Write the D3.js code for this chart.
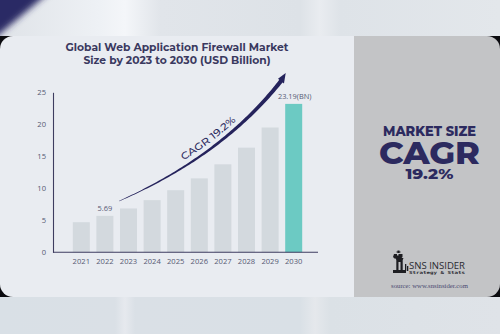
<!DOCTYPE html>
<html>
<head>
<meta charset="utf-8">
<script src="https://cdn.jsdelivr.net/npm/d3@7"></script>
<style>
  html, body { margin: 0; padding: 0; background: #dbe1e7; }
  svg { display: block; }
</style>
</head>
<body>
<svg id="chart" width="500" height="334"></svg>
<script>
// Market size, USD billion
const years = ["2021", "2022", "2023", "2024", "2025", "2026", "2027", "2028", "2029", "2030"];
const values = [4.7, 5.69, 6.85, 8.15, 9.7, 11.55, 13.75, 16.35, 19.5, 23.19];
const yTicks = [0, 5, 10, 15, 20, 25];
const labelledValues = { "2022": "5.69", "2030": "23.19(BN)" };
const cagrText = "CAGR 19.2%";

const W = 500, H = 334;
const svg = d3.select("#chart");
const defs = svg.append("defs");

// ---- background bands ----
const topGrad = defs.append("linearGradient").attr("id", "topGrad");
[[0, "#dfe3e8"], [0.2, "#eef1f5"], [0.25, "#f4f6f9"], [0.32, "#e1e5ea"], [0.6, "#dde2e7"],
 [0.64, "#e9ecf0"], [0.68, "#dee3e8"], [1, "#e3e7eb"]]
  .forEach(([o, c]) => topGrad.append("stop").attr("offset", o).attr("stop-color", c));
svg.append("rect").attr("width", W).attr("height", 40).attr("fill", "url(#topGrad)");

const botGrad = defs.append("linearGradient").attr("id", "botGrad");
[[0, "#d9e0e6"], [0.23, "#dae0e6"], [0.25, "#e6e9ee"], [0.27, "#dae0e6"], [0.6, "#d9e0e6"],
 [0.63, "#e5e8ec"], [0.66, "#dbe1e6"], [1, "#dfe3e8"]]
  .forEach(([o, c]) => botGrad.append("stop").attr("offset", o).attr("stop-color", c));
svg.append("rect").attr("y", 294).attr("width", W).attr("height", H - 294).attr("fill", "url(#botGrad)");

// navy corner accent
defs.append("filter").attr("id", "soft").attr("x", "-50%").attr("y", "-50%").attr("width", "200%").attr("height", "200%")
  .append("feGaussianBlur").attr("stdDeviation", 3.2);
svg.append("path").attr("d", "M-10,-10 L52,-10 L-10,42 Z").attr("fill", "#2c2965").attr("filter", "url(#soft)");

// dark strip behind the card, visible only in the rounded corners
svg.append("rect").attr("y", 36).attr("width", W).attr("height", 261).attr("fill", "#0b0b0f");

// card
const clip = defs.append("clipPath").attr("id", "cardClip");
clip.append("rect").attr("x", 0).attr("y", 36).attr("width", W).attr("height", 261).attr("rx", 13);
const card = svg.append("g").attr("clip-path", "url(#cardClip)");
card.append("rect").attr("x", 0).attr("y", 36).attr("width", 354).attr("height", 261).attr("fill", "#e9ecf1");
card.append("rect").attr("x", 354).attr("y", 36).attr("width", 146).attr("height", 261).attr("fill", "#c3c4c6");

// ---- title ----
const navy = "#3a395f";
const title = svg.append("text").attr("text-anchor", "middle")
  .attr("font-family", "Montserrat, 'Open Sans', sans-serif").attr("font-weight", 700)
  .attr("font-size", 11.2).attr("fill", navy);
title.append("tspan").attr("x", 177).attr("y", 51).attr("textLength", 223)
  .attr("lengthAdjust", "spacingAndGlyphs").text("Global Web Application Firewall Market");
title.append("tspan").attr("x", 177).attr("y", 64).attr("textLength", 187)
  .attr("lengthAdjust", "spacingAndGlyphs").text("Size by 2023 to 2030 (USD Billion)");

// ---- scales ----
const x = d3.scaleBand().domain(years).range([69.5, 305.5]).paddingInner(0.28).paddingOuter(0.14);
const y = d3.scaleLinear().domain([0, 25]).range([252.3, 92.3]);

const font = "'Open Sans', 'Noto Sans', sans-serif";
const tickColor = "#565a74";

// bars
svg.append("g").selectAll("rect").data(years).join("rect")
  .attr("x", d => x(d)).attr("width", x.bandwidth())
  .attr("y", (d, i) => y(values[i]))
  .attr("height", (d, i) => y(0) - y(values[i]))
  .attr("fill", (d, i) => i === years.length - 1 ? "#6ccac3" : "#d3d9de");

// y axis
const yAxis = svg.append("g").attr("transform", "translate(53,0)")
  .call(d3.axisLeft(y).tickValues(yTicks).tickSize(0).tickPadding(7).tickFormat(d3.format("d")));
yAxis.select(".domain").attr("stroke", "#3e3d60").attr("stroke-width", 1.1);
yAxis.selectAll("text").attr("font-family", font).attr("font-size", 7.6).attr("fill", tickColor);

// x axis
const xAxis = svg.append("g").attr("transform", `translate(0,${y(0)})`)
  .call(d3.axisBottom(x).tickSize(0).tickPadding(6));
xAxis.select(".domain").attr("d", `M53,0H318`).attr("stroke", "#3e3d60").attr("stroke-width", 1.1);
xAxis.selectAll("text").attr("font-family", font).attr("font-size", 7.6).attr("fill", tickColor);

// value labels
svg.append("g").selectAll("text").data(Object.keys(labelledValues)).join("text")
  .attr("x", d => x(d) + x.bandwidth() / 2 + (d === "2030" ? 1 : 0))
  .attr("y", d => y(values[years.indexOf(d)]) - 5)
  .attr("text-anchor", "middle")
  .attr("font-family", font).attr("font-size", 7.4).attr("fill", tickColor)
  .text(d => labelledValues[d]);

// ---- growth swoosh ----
const p0 = [x("2023") - 1, y(8.0)];
const p1 = [x("2027") + 9, y(15.2)];
const p2 = [x("2030") - 3, y(27.0)];
const tip = [x("2030") + 0.5, y(28.0)];
const bez = t => [
  (1 - t) * (1 - t) * p0[0] + 2 * (1 - t) * t * p1[0] + t * t * p2[0],
  (1 - t) * (1 - t) * p0[1] + 2 * (1 - t) * t * p1[1] + t * t * p2[1]
];
const normalAt = t => {
  const a = bez(Math.max(0, t - 0.005)), b = bez(Math.min(1, t + 0.005));
  const dx = b[0] - a[0], dy = b[1] - a[1], len = Math.hypot(dx, dy);
  return [-dy / len, dx / len, dx / len, dy / len];
};
const upper = [], lower = [], textLine = [];
const N = 80;
for (let i = 0; i <= N; i++) {
  const t = i / N;
  const [nx, ny] = normalAt(t);
  const hw = 0.2 + 1.9 * Math.pow(t, 0.8);
  const p = bez(t);
  upper.push([p[0] + nx * hw, p[1] + ny * hw]);
  lower.push([p[0] - nx * hw, p[1] - ny * hw]);
  textLine.push([p[0] + nx * 5.5, p[1] + ny * 5.5]);
}
svg.append("path")
  .attr("d", d3.line()(upper.concat(lower.slice().reverse())) + "Z")
  .attr("fill", "#25235c");
// arrow head
{
  const e = bez(1);
  const [nx, ny, ux, uy] = normalAt(0.995);
  const hw = 3.8;
  const base = [e[0] - ux * 2, e[1] - uy * 2];
  svg.append("path")
    .attr("d", d3.line()([[base[0] + nx * hw, base[1] + ny * hw], tip, [base[0] - nx * hw, base[1] - ny * hw]]) + "Z")
    .attr("fill", "#25235c");
}
// label running along the swoosh (normal points up-left since x grows and y falls)
{
  // make sure the offset line sits on the upper-left side
  const mid = Math.round(N * 0.5);
  const pm = bez(0.5);
  let line = textLine;
  if (textLine[mid][1] > pm[1]) {
    line = textLine.map((q, i) => { const p = bez(i / N); return [2 * p[0] - q[0], 2 * p[1] - q[1]]; });
  }
  defs.append("path").attr("id", "cagrPath").attr("d", d3.line()(line));
  let acc = 0, at = 0;
  for (let i = 1; i < line.length; i++) {
    acc += Math.hypot(line[i][0] - line[i - 1][0], line[i][1] - line[i - 1][1]);
    if (i === Math.round(N * 0.515)) at = acc;
  }
  svg.append("text")
    .attr("font-family", "Montserrat, 'Open Sans', sans-serif").attr("font-weight", 500)
    .attr("font-size", 9.8).attr("fill", "#2b2a5e")
    .append("textPath").attr("href", "#cagrPath")
    .attr("startOffset", at).attr("text-anchor", "middle")
    .attr("textLength", 66).attr("lengthAdjust", "spacingAndGlyphs")
    .text(cagrText);
}

// ---- side panel ----
const cx = 429.5;
const side = svg.append("g").attr("text-anchor", "middle").attr("fill", "#2c2a5f")
  .attr("font-family", "Montserrat, 'Open Sans', sans-serif").attr("font-weight", 800);
side.append("text").attr("x", cx).attr("y", 136).attr("font-size", 13.5)
  .attr("textLength", 93).attr("lengthAdjust", "spacingAndGlyphs").text("MARKET SIZE");
side.append("text").attr("x", cx).attr("y", 163.5).attr("font-size", 30)
  .attr("textLength", 101).attr("lengthAdjust", "spacingAndGlyphs").text("CAGR");
side.append("text").attr("x", cx).attr("y", 179).attr("font-size", 14.5)
  .attr("textLength", 48).attr("lengthAdjust", "spacingAndGlyphs").text("19.2%");

// logo: rook-shaped mark
const logo = svg.append("g").attr("fill", "#1e1e22");
logo.append("rect").attr("x", 397.5).attr("y", 250.5).attr("width", 2).attr("height", 2.5);
logo.append("rect").attr("x", 396.5).attr("y", 251.5).attr("width", 4).attr("height", 1);
logo.append("path").attr("d", "M394,254 h3 v1.5 h1.5 v-1.5 h3 h1 v3 l-1.5,1.5 h-6.5 l-1.5,-1.5 Z");
logo.append("path").attr("d", "M395.5,258 h8 l-0.8,2 v10 h-6.4 v-10 Z");
logo.append("rect").attr("x", 393).attr("y", 270).attr("width", 13).attr("height", 3);
logo.append("rect").attr("x", 398.5).attr("y", 262).attr("width", 2).attr("height", 8).attr("fill", "#c3c4c6");
logo.append("rect").attr("x", 405).attr("y", 264).attr("width", 1.3).attr("height", 7);
logo.append("rect").attr("x", 407).attr("y", 266).attr("width", 1.3).attr("height", 5);

svg.append("text").attr("x", 409).attr("y", 268.5)
  .attr("font-family", "'Open Sans', sans-serif").attr("font-weight", 500)
  .attr("font-size", 9.6).attr("fill", "#2a2a30")
  .attr("textLength", 56).attr("lengthAdjust", "spacingAndGlyphs").text("SNS INSIDER");
svg.append("text").attr("x", 409).attr("y", 274.3)
  .attr("font-family", "'DejaVu Sans Mono', monospace").attr("font-weight", 700)
  .attr("font-size", 4.2).attr("fill", "#2a2a30")
  .attr("textLength", 56).attr("lengthAdjust", "spacingAndGlyphs").text("Strategy & Stats");
svg.append("text").attr("x", cx).attr("y", 287.5).attr("text-anchor", "middle")
  .attr("font-family", "'Liberation Serif', serif")
  .attr("font-size", 6.6).attr("fill", "#4a4a70")
  .attr("textLength", 77).attr("lengthAdjust", "spacingAndGlyphs").text("source: www.snsinsider.com");
</script>
</body>
</html>
